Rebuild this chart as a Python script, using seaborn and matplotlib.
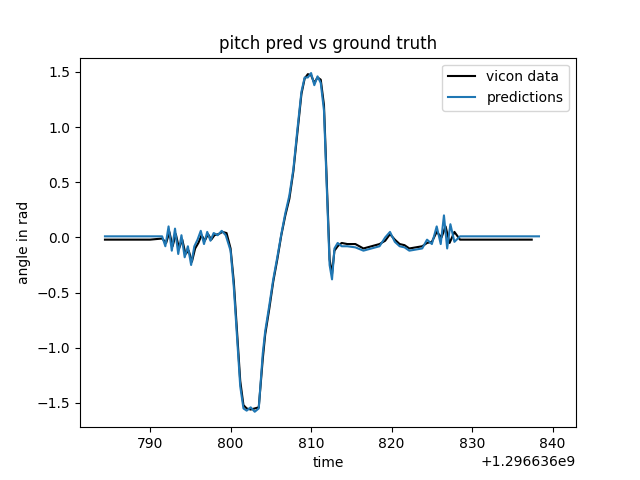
import numpy as np
import matplotlib
matplotlib.use("Agg")
import matplotlib.pyplot as plt
import seaborn as sns

t0 = 1296636000.0

# seconds after t0 and pitch angle (rad)
vicon_t = [784.4, 786, 788, 790, 791.5, 792.0, 792.4, 792.8, 793.2, 793.6, 794.0, 794.4, 794.8,
           795.2, 795.6, 796.0, 796.4, 796.8, 797.2, 797.6, 798.0, 798.5, 799.0, 799.5, 800.0,
           800.4, 800.8, 801.2, 801.6, 802.0, 802.5, 803.0, 803.5, 804.0, 804.3, 804.8, 805.3,
           805.8, 806.3, 806.8, 807.3, 807.8, 808.3, 808.8, 809.2, 809.6, 810.0, 810.4, 810.8,
           811.2, 811.6, 812.0, 812.3, 812.6, 812.9, 813.3, 813.8, 814.5, 815.5, 816.5, 817.5,
           818.5, 819.2, 819.8, 820.4, 821.0, 821.6, 822.2, 823.0, 823.8, 824.4, 825.0, 825.6,
           826.2, 826.7, 827.2, 827.8, 828.5, 830, 833, 835, 837.4]
vicon_y = [-0.02, -0.02, -0.02, -0.02, -0.01, -0.05, 0.05, -0.08, 0.03, -0.10, -0.02, -0.15,
           -0.12, -0.22, -0.10, -0.05, 0.02, -0.03, 0.03, -0.02, 0.02, 0.03, 0.05, 0.04, -0.10,
           -0.40, -0.85, -1.30, -1.52, -1.55, -1.56, -1.55, -1.54, -1.10, -0.88, -0.65, -0.40,
           -0.20, 0.02, 0.20, 0.35, 0.60, 0.95, 1.30, 1.44, 1.48, 1.47, 1.40, 1.45, 1.43, 1.20,
           0.40, -0.20, -0.33, -0.12, -0.08, -0.05, -0.06, -0.06, -0.10, -0.08, -0.06, -0.03,
           0.03, -0.02, -0.06, -0.07, -0.10, -0.09, -0.08, -0.05, -0.04, 0.05, 0.00, 0.10,
           -0.05, 0.05, -0.02, -0.02, -0.02, -0.02, -0.02]

pred_t = [784.4, 786, 788, 790, 791.5, 791.9, 792.3, 792.7, 793.1, 793.5, 793.9, 794.3, 794.7,
          795.1, 795.5, 795.9, 796.3, 796.7, 797.1, 797.5, 797.9, 798.4, 798.9, 799.4, 800.0,
          800.4, 800.8, 801.2, 801.6, 802.0, 802.5, 803.0, 803.5, 804.0, 804.3, 804.8, 805.3,
          805.8, 806.3, 806.8, 807.3, 807.8, 808.3, 808.8, 809.2, 809.6, 810.0, 810.4, 810.8,
          811.2, 811.6, 812.0, 812.3, 812.6, 812.9, 813.3, 813.8, 814.5, 815.5, 816.5, 817.5,
          818.5, 819.2, 819.8, 820.4, 821.0, 821.6, 822.2, 823.0, 823.8, 824.4, 825.0, 825.6,
          826.1, 826.5, 826.9, 827.3, 827.8, 828.5, 830, 833, 836, 838.3]
pred_y = [0.01, 0.01, 0.01, 0.01, 0.01, -0.08, 0.10, -0.12, 0.08, -0.15, 0.02, -0.18, -0.08,
          -0.25, -0.08, -0.02, 0.06, -0.06, 0.05, -0.03, 0.04, 0.02, 0.06, 0.02, -0.12, -0.45,
          -0.90, -1.35, -1.55, -1.57, -1.54, -1.58, -1.55, -1.05, -0.85, -0.62, -0.38, -0.18,
          0.03, 0.22, 0.38, 0.62, 0.98, 1.32, 1.45, 1.45, 1.49, 1.38, 1.46, 1.40, 1.15, 0.35,
          -0.25, -0.38, -0.10, -0.05, -0.08, -0.08, -0.09, -0.12, -0.10, -0.08, 0.00, 0.05,
          -0.04, -0.08, -0.09, -0.12, -0.11, -0.10, -0.02, -0.06, 0.10, -0.06, 0.20, -0.10,
          0.12, -0.04, 0.01, 0.01, 0.01, 0.01, 0.01]

fig, ax = plt.subplots(figsize=(6.4, 4.8), dpi=100)
sns.lineplot(x=t0 + np.array(vicon_t), y=vicon_y, color="black", label="vicon data", ax=ax)
sns.lineplot(x=t0 + np.array(pred_t), y=pred_y, color="#1f77b4", label="predictions", ax=ax)
ax.set_xlim(t0 + 781.3, t0 + 842.9)
ax.set_ylim(-1.72, 1.63)
ax.set_xlabel("time")
ax.set_ylabel("angle in rad")
ax.set_title("pitch pred vs ground truth")
ax.legend(loc="upper right")
fig.savefig("out.png")
